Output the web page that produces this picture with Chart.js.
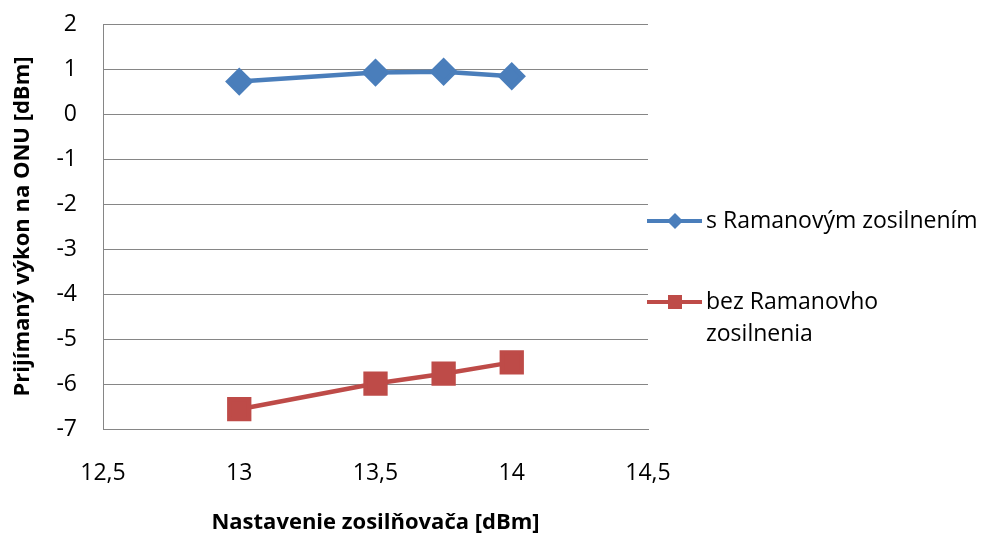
<!DOCTYPE html>
<html>
<head>
<meta charset="utf-8">
<script src="https://cdn.jsdelivr.net/npm/chart.js@4"></script>
<style>
  html, body { margin: 0; padding: 0; background: #fff; }
  #wrap { width: 984px; height: 538px; }
</style>
</head>
<body>
<div id="wrap"><canvas id="chart" width="984" height="538"></canvas></div>
<script>
// x values (nastavenie zosilnovaca, dBm)
const gainSettings = [13, 13.5, 13.75, 14];
// received power with Raman amplification
const withRaman = [0.72, 0.92, 0.94, 0.84];
// received power without Raman amplification
const withoutRaman = [-6.56, -5.99, -5.77, -5.52];
const seriesNames = ['s Ramanovým zosilnením', 'bez Ramanovho zosilnenia'];
const legendLines = [['s Ramanovým zosilnením'], ['bez Ramanovho', 'zosilnenia']];
const xTicks = [12.5, 13, 13.5, 14, 14.5];
const yTicks = [-7, -6, -5, -4, -3, -2, -1, 0, 1, 2];

const FONT = "'Open Sans', sans-serif";
const BLUE = '#4A7EBB';
const RED = '#BE4B48';

function toPoints(ys) {
  return gainSettings.map((x, i) => ({ x: x, y: ys[i] }));
}

// draws legend on the right side, with wrapped text
const sideLegend = {
  id: 'sideLegend',
  afterDraw(chart) {
    const ctx = chart.ctx;
    const rows = [221, 302];
    ctx.save();
    chart.data.datasets.forEach((ds, i) => {
      const y = rows[i];
      ctx.strokeStyle = ds.borderColor;
      ctx.lineWidth = 4;
      ctx.beginPath();
      ctx.moveTo(647, y);
      ctx.lineTo(702, y);
      ctx.stroke();
      ctx.fillStyle = ds.backgroundColor;
      if (ds.pointStyle === 'rectRot') {
        ctx.beginPath();
        ctx.moveTo(675, y - 8);
        ctx.lineTo(683, y);
        ctx.lineTo(675, y + 8);
        ctx.lineTo(667, y);
        ctx.closePath();
        ctx.fill();
      } else {
        ctx.fillRect(668, y - 7, 14, 14);
      }
      ctx.fillStyle = '#000';
      ctx.font = '23px ' + FONT;
      ctx.textBaseline = 'middle';
      ctx.textAlign = 'left';
      legendLines[i].forEach((line, j) => {
        ctx.fillText(line, 706, y + j * 32);
      });
    });
    ctx.restore();
  }
};

new Chart(document.getElementById('chart'), {
  type: 'line',
  data: {
    datasets: [
      {
        label: seriesNames[0],
        data: toPoints(withRaman),
        borderColor: BLUE,
        backgroundColor: BLUE,
        borderWidth: 4.5,
        pointStyle: 'rectRot',
        pointRadius: 11,
        pointHoverRadius: 11,
        tension: 0
      },
      {
        label: seriesNames[1],
        data: toPoints(withoutRaman),
        borderColor: RED,
        backgroundColor: RED,
        borderWidth: 4.5,
        pointStyle: 'rect',
        pointRadius: 14,
        pointHoverRadius: 14,
        tension: 0
      }
    ]
  },
  options: {
    responsive: false,
    animation: false,
    layout: { padding: { left: 0, right: 336, top: 24, bottom: 0 } },
    plugins: {
      legend: { display: false },
      tooltip: { enabled: false }
    },
    scales: {
      x: {
        type: 'linear',
        min: 12.5,
        max: 14.5,
        afterBuildTicks: s => { s.ticks = xTicks.map(v => ({ value: v })); },
        afterFit: s => { s.height = 109; s.paddingLeft = 0; s.paddingRight = 0; },
        grid: { display: false, drawTicks: false },
        border: { display: true, color: '#868686', width: 1 },
        ticks: {
          padding: 31,
          color: '#000',
          font: { family: FONT, size: 23 },
          callback: v => String(v).replace('.', ',')
        },
        title: {
          display: true,
          text: 'Nastavenie zosilňovača [dBm]',
          color: '#000',
          font: { family: FONT, size: 22, weight: 'bold' },
          padding: { top: 0, bottom: 2 }
        }
      },
      y: {
        min: -7,
        max: 2,
        afterBuildTicks: s => { s.ticks = yTicks.map(v => ({ value: v })); },
        afterFit: s => { s.width = 103; s.paddingTop = 0; s.paddingBottom = 0; },
        grid: { color: '#868686', lineWidth: 1, drawTicks: false },
        border: { display: true, color: '#868686', width: 1 },
        ticks: {
          padding: 26,
          color: '#000',
          font: { family: FONT, size: 23 }
        },
        title: {
          display: true,
          text: 'Prijímaný výkon na ONU [dBm]',
          color: '#000',
          font: { family: FONT, size: 22, weight: 'bold' },
          padding: { top: 10, bottom: 0 }
        }
      }
    }
  },
  plugins: [sideLegend]
});
</script>
</body>
</html>
